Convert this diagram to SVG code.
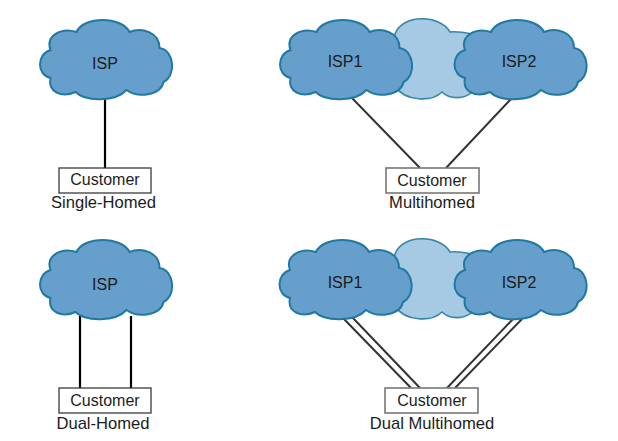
<svg xmlns="http://www.w3.org/2000/svg" width="618" height="441" viewBox="0 0 618 441">
<style>
.cloud{fill:#669fcb;stroke:#2079a3;stroke-width:2}
.mid{fill:#a6c9e4;stroke:#3a86a8;stroke-width:1.6}
.box{fill:#fff;stroke:#3a3a3a;stroke-width:1.3}
.gbox{fill:#fff;stroke:#777;stroke-width:1.6}
.t{font-family:"Liberation Sans",Arial,sans-serif;font-size:16px;fill:#1c1c1c;text-anchor:middle}
.n{font-size:16.600px}
.l{fill:none;stroke:#000;stroke-width:2.200}
.d{fill:none;stroke:#333;stroke-width:2}
</style>
<defs>
<path id="c" d="M-55,-10C-60,-24-45,-33-29,-28C-22,-44 16,-44 24,-28C36,-33 54,-28 54,-12C69,-10 71,16 58,22C55,36 32,38 21,30C10,42-20,42-30,32C-44,38-58,32-55,18C-69,15-69,-6-55,-10Z"/>
<path id="m" d="M395,34C402,14 440,14 450,32C455,31 462,32 472,34L472,92C465,99 450,100 442,92C432,102 405,102 395,86Z"/>
</defs>
<rect width="618" height="441" fill="#fff"/>
<g id="connectors">
<line class="l" x1="105" y1="98" x2="105" y2="168"/>
<line class="l" x1="80" y1="316" x2="80" y2="388"/>
<line class="l" x1="131" y1="316" x2="131" y2="388"/>
<line class="d" x1="351" y1="97" x2="420" y2="168"/>
<line class="d" x1="511" y1="99" x2="446" y2="168"/>
<line class="d" x1="343" y1="318" x2="411" y2="388"/>
<line class="d" x1="352" y1="317" x2="420" y2="388"/>
<line class="d" x1="513" y1="319" x2="447" y2="388"/>
<line class="d" x1="522" y1="319" x2="455" y2="388"/>
</g>
<g id="isp-single"><use href="#c" x="105.500" y="60" class="cloud"/><text class="t" x="105" y="69">ISP</text></g>
<g id="customer-single"><rect class="box" x="59" y="168" width="92" height="25"/><text class="t" x="105" y="185">Customer</text></g>
<text id="label-single" class="t n" x="103.500" y="208">Single-Homed</text>
<g id="isp-middle-multi"><use href="#m" class="mid"/></g>
<g id="isp1-multi"><use href="#c" x="345.500" y="60" class="cloud"/><text class="t" x="345" y="67">ISP1</text></g>
<g id="isp2-multi"><use href="#c" x="520" y="60" class="cloud"/><text class="t" x="519" y="67">ISP2</text></g>
<g id="customer-multi"><rect class="gbox" x="386" y="168" width="93" height="25"/><text class="t" x="432" y="186">Customer</text></g>
<text id="label-multi" class="t n" x="432" y="208">Multihomed</text>
<g id="isp-dual"><use href="#c" x="105.500" y="280" class="cloud"/><text class="t" x="105" y="290">ISP</text></g>
<g id="customer-dual"><rect class="box" x="59" y="388" width="92" height="25"/><text class="t" x="105" y="406">Customer</text></g>
<text id="label-dual" class="t n" x="103" y="429">Dual-Homed</text>
<g id="isp-middle-dualmulti"><use href="#m" y="220" class="mid"/></g>
<g id="isp1-dualmulti"><use href="#c" x="345" y="280" class="cloud"/><text class="t" x="345" y="288">ISP1</text></g>
<g id="isp2-dualmulti"><use href="#c" x="520" y="280" class="cloud"/><text class="t" x="519" y="288">ISP2</text></g>
<g id="customer-dualmulti"><rect class="gbox" x="385" y="388" width="93" height="25"/><text class="t" x="432" y="406">Customer</text></g>
<text id="label-dualmulti" class="t n" x="432" y="429">Dual Multihomed</text>
</svg>
